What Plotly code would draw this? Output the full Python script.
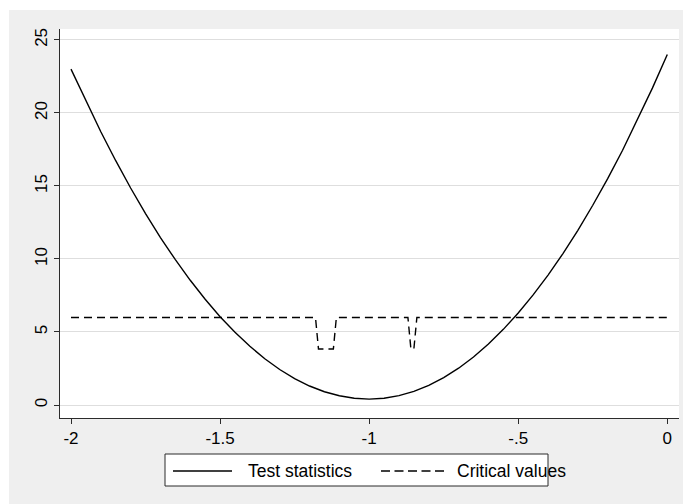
import plotly.graph_objects as go

# ---- data ----
x_vals = [-2.00, -1.95, -1.90, -1.85, -1.80, -1.75, -1.70, -1.65, -1.60, -1.55,
          -1.50, -1.45, -1.40, -1.35, -1.30, -1.25, -1.20, -1.15, -1.10, -1.05,
          -1.00, -0.95, -0.90, -0.85, -0.80, -0.75, -0.70, -0.65, -0.60, -0.55,
          -0.50, -0.45, -0.40, -0.35, -0.30, -0.25, -0.20, -0.15, -0.10, -0.05,
          0.00]
test_stat = [23.00, 20.80, 18.71, 16.73, 14.86, 13.11, 11.47, 9.95, 8.54, 7.24,
             6.05, 4.98, 4.02, 3.17, 2.43, 1.81, 1.30, 0.91, 0.63, 0.46,
             0.40, 0.46, 0.64, 0.93, 1.34, 1.88, 2.52, 3.29, 4.18, 5.18,
             6.30, 7.54, 8.90, 10.37, 11.96, 13.68, 15.50, 17.45, 19.52, 21.70,
             24.00]

crit_x = [-2.00, -1.18, -1.17, -1.12, -1.11, -0.87, -0.86, -0.85, -0.84, 0.00]
crit_y = [5.99, 5.99, 3.84, 3.84, 5.99, 5.99, 3.84, 3.84, 5.99, 5.99]

x_ticks = [-2, -1.5, -1, -0.5, 0]
x_tick_labels = ["-2", "-1.5", "-1", "-.5", "0"]
y_ticks = [0, 5, 10, 15, 20, 25]
y_tick_labels = ["0", "5", "10", "15", "20", "25"]

legend_names = ["Test statistics", "Critical values"]

# ---- layout geometry (pixels) ----
W, H = 683, 504
L, R, T, B = 60, 4, 29, 86
PW, PH = W - L - R, H - T - B
FONT = "Arial, Liberation Sans, sans-serif"
GRAY = "#efefef"
AX = "#2b2b2b"


def px(xp):
    return (xp - L) / PW


def py(yp):
    return (H - B - yp) / PH


fig = go.Figure()
fig.add_trace(go.Scatter(x=x_vals, y=test_stat, mode="lines", name=legend_names[0],
                         line=dict(color="black", width=1.4), showlegend=False))
fig.add_trace(go.Scatter(x=crit_x, y=crit_y, mode="lines", name=legend_names[1],
                         line=dict(color="black", width=1.4, dash="8px,5px"),
                         showlegend=False))

shapes = []
# white strips at top and left of the image (outer gray region inset)
shapes.append(dict(type="rect", xref="paper", yref="paper",
                   x0=px(0), x1=px(W), y0=py(10), y1=py(0),
                   fillcolor="white", line=dict(width=0), layer="below"))
shapes.append(dict(type="rect", xref="paper", yref="paper",
                   x0=px(0), x1=px(9), y0=py(H), y1=py(0),
                   fillcolor="white", line=dict(width=0), layer="below"))
# legend box
shapes.append(dict(type="rect", xref="paper", yref="paper",
                   x0=px(165), x1=px(548), y0=py(486), y1=py(454),
                   fillcolor="white", line=dict(color=AX, width=1)))
# legend samples
shapes.append(dict(type="line", xref="paper", yref="paper",
                   x0=px(173), x1=px(232), y0=py(471), y1=py(471),
                   line=dict(color="black", width=1.4)))
shapes.append(dict(type="line", xref="paper", yref="paper",
                   x0=px(381), x1=px(446), y0=py(471), y1=py(471),
                   line=dict(color="black", width=1.4, dash="9px,4.5px")))

annotations = [
    dict(text=legend_names[0], xref="paper", yref="paper", x=px(246), y=py(471),
         xanchor="left", yanchor="middle", showarrow=False,
         font=dict(family=FONT, size=17.5, color="black")),
    dict(text=legend_names[1], xref="paper", yref="paper", x=px(455), y=py(471),
         xanchor="left", yanchor="middle", showarrow=False,
         font=dict(family=FONT, size=17.5, color="black")),
]

fig.update_layout(
    width=W, height=H,
    margin=dict(l=L, r=R, t=T, b=B, pad=0),
    paper_bgcolor=GRAY, plot_bgcolor="white",
    font=dict(family=FONT, size=17, color="black"),
    shapes=shapes, annotations=annotations,
    showlegend=False,
    xaxis=dict(range=[-2.0369, 0.0392], tickvals=x_ticks, ticktext=x_tick_labels,
               showgrid=False, zeroline=False, showline=True, linecolor=AX,
               linewidth=1, ticks="outside", ticklen=5, tickcolor=AX,
               tickfont=dict(family=FONT, size=17, color="black")),
    yaxis=dict(range=[-0.89, 25.75], tickvals=y_ticks, ticktext=y_tick_labels,
               showgrid=True, gridcolor="#dedede", gridwidth=1, zeroline=False,
               showline=True, linecolor=AX, linewidth=1, ticks="outside",
               ticklen=5, tickcolor=AX, tickangle=-90,
               tickfont=dict(family=FONT, size=17, color="black")),
)

fig.write_html("out.html",
               config={"displayModeBar": False, "staticPlot": True},
               post_script="document.body.style.margin='0px';"
                           "document.body.style.overflow='hidden';")
